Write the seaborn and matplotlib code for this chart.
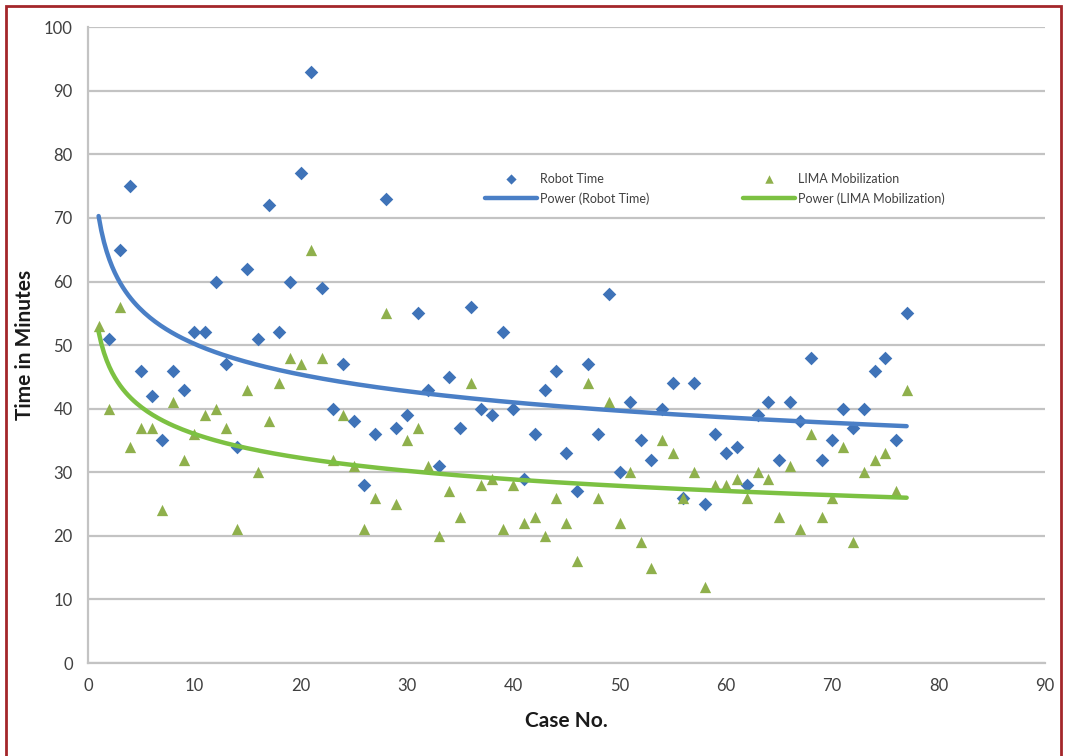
import numpy as np
import pandas as pd
import seaborn as sns
import matplotlib.pyplot as plt
from matplotlib.patches import Rectangle

# data
case_no = list(range(1, 78))
robot_time = [np.nan, 51, 65, 75, 46, 42, 35, 46, 43, 52,
              52, 60, 47, 34, 62, 51, 72, 52, 60, 77,
              93, 59, 40, 47, 38, 28, 36, 73, 37, 39,
              55, 43, 31, 45, 37, 56, 40, 39, 52, 40,
              29, 36, 43, 46, 33, 27, 47, 36, 58, 30,
              41, 35, 32, 40, 44, 26, 44, 25, 36, 33,
              34, 28, 39, 41, 32, 41, 38, 48, 32, 35,
              40, 37, 40, 46, 48, 35, 55]
lima_mobilization = [53, 40, 56, 34, 37, 37, 24, 41, 32, 36,
                     39, 40, 37, 21, 43, 30, 38, 44, 48, 47,
                     65, 48, 32, 39, 31, 21, 26, 55, 25, 35,
                     37, 31, 20, 27, 23, 44, 28, 29, 21, 28,
                     22, 23, 20, 26, 22, 16, 44, 26, 41, 22,
                     30, 19, 15, 35, 33, 26, 30, 12, 28, 28,
                     29, 26, 30, 29, 23, 31, 21, 36, 23, 26,
                     34, 19, 30, 32, 33, 27, 43]

BLUE = "#3f73b8"
BLUE_LINE = "#4a7fc6"
GREEN = "#8fb04c"
GREEN_LINE = "#7cc142"
GRID = "#c3c3c3"


def power_fit(x, y):
    # same as Excel's power trendline: least squares in log-log space
    x = np.asarray(x, float)
    y = np.asarray(y, float)
    ok = ~np.isnan(y)
    b, ln_a = np.polyfit(np.log(x[ok]), np.log(y[ok]), 1)
    xs = np.linspace(x.min(), x.max(), 300)
    return xs, np.exp(ln_a) * xs ** b


df = pd.DataFrame({"case": case_no, "robot": robot_time, "lima": lima_mobilization})

sns.set_theme(style="white")
plt.rcParams['font.family'] = ['Lato', 'DejaVu Sans']

fig = plt.figure(figsize=(10.65, 7.56), dpi=100)
ax = fig.add_axes([0.0826, 0.123, 0.8985, 0.841])

sns.scatterplot(data=df, x="case", y="robot", ax=ax, marker="D", s=48,
                color=BLUE, edgecolor=BLUE, linewidth=0, label="Robot Time", zorder=3)
xr, yr = power_fit(case_no, robot_time)
sns.lineplot(x=xr, y=yr, ax=ax, color=BLUE_LINE, linewidth=3.2,
             label="Power (Robot Time)", zorder=4)
sns.scatterplot(data=df, x="case", y="lima", ax=ax, marker="^", s=66,
                color=GREEN, edgecolor=GREEN, linewidth=0, label="LIMA Mobilization", zorder=3)
xl, yl = power_fit(case_no, lima_mobilization)
sns.lineplot(x=xl, y=yl, ax=ax, color=GREEN_LINE, linewidth=3.2,
             label="Power (LIMA Mobilization)", zorder=4)

ax.set_xlim(0, 90)
ax.set_ylim(0, 100)
ax.set_xticks(range(0, 91, 10))
ax.set_yticks(range(0, 101, 10))
ax.yaxis.grid(True, color=GRID, linewidth=1.6)
ax.xaxis.grid(False)
ax.set_axisbelow(True)
for side in ["top", "right"]:
    ax.spines[side].set_visible(False)
for side in ["left", "bottom"]:
    ax.spines[side].set_color(GRID)
    ax.spines[side].set_linewidth(1.6)
ax.tick_params(axis="both", colors=GRID, length=5, width=1.2, labelsize=12,
               labelcolor="#404040", pad=6)

ax.set_xlabel("Case No.", fontsize=15, fontweight="bold", color="#1a1a1a", labelpad=12)
ax.set_ylabel("Time in Minutes", fontsize=15, fontweight="bold", color="#1a1a1a", labelpad=6)

leg = ax.legend(loc="center", bbox_to_anchor=(0.655, 0.746), ncol=2, frameon=True,
                fontsize=9, handlelength=4.2, columnspacing=7.5, labelspacing=0.6,
                borderpad=0.3, handletextpad=0.2, markerscale=0.75)
leg.get_frame().set_facecolor("white")
leg.get_frame().set_edgecolor("white")
for t in leg.get_texts():
    t.set_color("#404040")

# dark red frame around the picture (bottom edge is cut off in the original)
fig.patches.append(Rectangle((6 / 1065, -0.02), 1055 / 1065, 1 - 6 / 756 + 0.02,
                             transform=fig.transFigure, fill=False,
                             edgecolor="#a3262a", linewidth=2))

fig.savefig("out.png", dpi=100)
